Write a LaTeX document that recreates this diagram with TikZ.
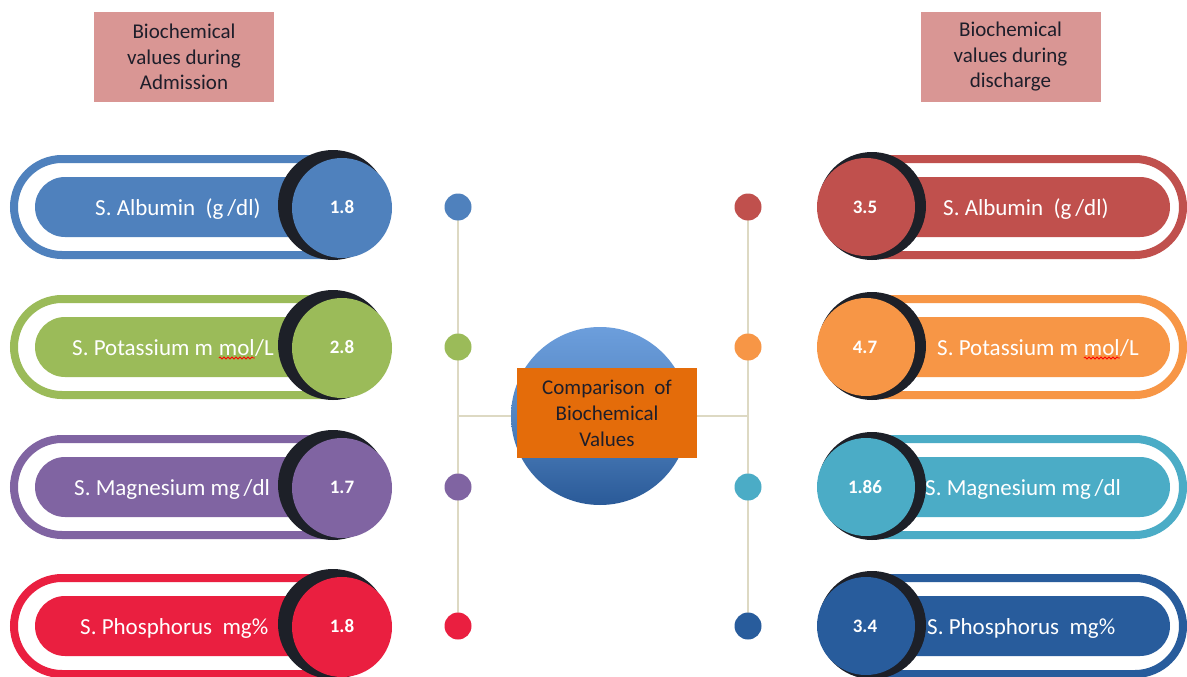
\documentclass[tikz,border=0pt]{standalone}
\usepackage{fontspec}
\setmainfont{Carlito}
\usetikzlibrary{decorations.pathmorphing}
\definecolor{cblue}{HTML}{4F81BD}
\definecolor{cred}{HTML}{C0504D}
\definecolor{cgreen}{HTML}{9BBB59}
\definecolor{corange}{HTML}{F79646}
\definecolor{cpurple}{HTML}{8064A2}
\definecolor{caqua}{HTML}{4BACC6}
\definecolor{ccrimson}{HTML}{EA1F40}
\definecolor{cnavy}{HTML}{285C9C}
\definecolor{ringc}{HTML}{1D2028}
\definecolor{linec}{HTML}{DDD9C3}
\definecolor{titlefill}{HTML}{D99694}
\definecolor{titletext}{HTML}{1E1E2A}
\definecolor{boxorange}{HTML}{E46C0A}
\definecolor{ctop}{HTML}{6C9EDC}
\definecolor{cbot}{HTML}{2A5A98}
\tikzset{
  outerpill/.style={line width=8pt},
  pilltext/.style={text=white, font=\fontsize{23}{28}\selectfont, anchor=base west, inner sep=0pt},
  valtext/.style={text=white, font=\fontsize{19}{23}\selectfont\bfseries, anchor=base, inner sep=0pt},
  darkring/.style={circle, fill=ringc, inner sep=0pt, minimum size=#1},
  valcircle/.style={circle, inner sep=0pt, minimum size=#1},
  dotnode/.style={circle, inner sep=0pt, minimum size=27pt},
  conn/.style={draw=linec, line width=2pt},
  spellwave/.style={draw=red, line width=0.8pt, decorate, decoration={snake, amplitude=1pt, segment length=4pt}},
  titlebox/.style={fill=titlefill, minimum width=180pt, minimum height=90pt, align=center, text=titletext, font=\fontsize{21}{25.5}\selectfont, inner sep=0pt},
  centerbox/.style={fill=boxorange, minimum width=180pt, minimum height=90pt, align=center, text=titletext, font=\fontsize{21}{26}\selectfont, inner sep=0pt}
}
\newcommand{\leftpill}[3]{%
  \draw[outerpill, draw=#3, rounded corners=48pt] (335,#2-48) -- (14,#2-48) -- (14,#2+48) -- (335,#2+48);
  \fill[#3, rounded corners=30pt] (35,#2-30) rectangle (335,#2+30);
}
\newcommand{\leftval}[4]{%
  \node[darkring=110pt] (Lring#1) at (333,#2-2) {};
  \node[valcircle=100pt, fill=#3] (Lval#1) at (342,#2+1) {};
  \node[valtext] (Lnum#1) at (342,#2+6.5) {#4};
}
\newcommand{\rightpill}[3]{%
  \draw[outerpill, draw=#3, rounded corners=48pt] (880,#2-48) -- (1183,#2-48) -- (1183,#2+48) -- (880,#2+48);
  \fill[#3, rounded corners=30pt] (840,#2-30) rectangle (1170,#2+30);
}
\newcommand{\rightval}[4]{%
  \node[darkring=108pt] (Rring#1) at (872,#2-1) {};
  \node[valcircle=98pt, fill=#3] (Rval#1) at (866,#2) {};
  \node[valtext] (Rnum#1) at (865,#2+6.5) {#4};
}
\begin{document}
\begin{tikzpicture}[x=1pt,y=-1pt]
\useasboundingbox (0,0) rectangle (1187,677);
\fill[white] (0,0) rectangle (1187,677);
% titles
\node[titlebox] (tleft) at (184,57) {\raisebox{-2pt}{Biochemical}\\\raisebox{-2pt}{values during}\\\raisebox{-2pt}{Admission}};
\node[titlebox] (tright) at (1010.5,57) {\raisebox{-2pt}{Biochemical}\\\raisebox{-2pt}{values during}\\\raisebox{-2pt}{discharge}};
% left rows
\leftpill{1}{207}{cblue}
\node[pilltext] (Llab1) at (95,215) {S. Albumin\ \ (g\,/dl)};
\leftval{1}{207}{cblue}{1.8}
\leftpill{2}{347}{cgreen}
\node[pilltext] (Llab2a) at (72,355) {S. Potassium m\kern5.5pt};
\node[pilltext] (Llab2b) at (Llab2a.base east) {mol};
\node[pilltext] (Llab2c) at (Llab2b.base east) {/L};
\draw[spellwave] ([yshift=-3pt]Llab2b.base west) -- ([yshift=-3pt]Llab2b.base east);
\leftval{2}{347}{cgreen}{2.8}
\leftpill{3}{487}{cpurple}
\node[pilltext] (Llab3) at (74,495) {S. Magnesium mg\,/dl};
\leftval{3}{487}{cpurple}{1.7}
\leftpill{4}{626}{ccrimson}
\node[pilltext] (Llab4) at (80,634) {S. Phosphorus\ \ mg\%};
\leftval{4}{626}{ccrimson}{1.8}
% right rows
\rightpill{1}{207}{cred}
\node[pilltext] (Rlab1) at (943,215) {S. Albumin\ \ (g\,/dl)};
\rightval{1}{207}{cred}{3.5}
\rightpill{2}{347}{corange}
\node[pilltext] (Rlab2a) at (937,355) {S. Potassium m\kern5.5pt};
\node[pilltext] (Rlab2b) at (Rlab2a.base east) {mol};
\node[pilltext] (Rlab2c) at (Rlab2b.base east) {/L};
\draw[spellwave] ([yshift=-3pt]Rlab2b.base west) -- ([yshift=-3pt]Rlab2b.base east);
\rightval{2}{347}{corange}{4.7}
\rightpill{3}{487}{caqua}
\node[pilltext] (Rlab3) at (925,495) {S. Magnesium mg\,/dl};
\rightval{3}{487}{caqua}{1.86}
\rightpill{4}{626}{cnavy}
\node[pilltext] (Rlab4) at (927,634) {S. Phosphorus\ \ mg\%};
\rightval{4}{626}{cnavy}{3.4}
% connector skeleton
\coordinate (pl1) at (458,207); \coordinate (pl4) at (458,626);
\coordinate (pr1) at (748,207); \coordinate (pr4) at (748,626);
\coordinate (lm) at (458,416); \coordinate (rm) at (748,416);
\draw[conn] (pl1) -- (pl4);
\draw[conn] (pr1) -- (pr4);
\draw[conn] (lm) -- (rm);
% dots
\node[dotnode, fill=cblue] (dl1) at (458,207) {};
\node[dotnode, fill=cgreen] (dl2) at (458,347) {};
\node[dotnode, fill=cpurple] (dl3) at (458,487) {};
\node[dotnode, fill=ccrimson] (dl4) at (458,626) {};
\node[dotnode, fill=cred] (dr1) at (748,207) {};
\node[dotnode, fill=corange] (dr2) at (748,347) {};
\node[dotnode, fill=caqua] (dr3) at (748,487) {};
\node[dotnode, fill=cnavy] (dr4) at (748,626) {};
% center
\node[circle, inner sep=0pt, minimum size=178pt, top color=ctop, bottom color=cbot, middle color=cblue!90!ctop] (cc) at (600,416) {};
\node[centerbox] (cbox) at (607,413) {Comparison\ \ of\\Biochemical\\Values};
\end{tikzpicture}
\end{document}
